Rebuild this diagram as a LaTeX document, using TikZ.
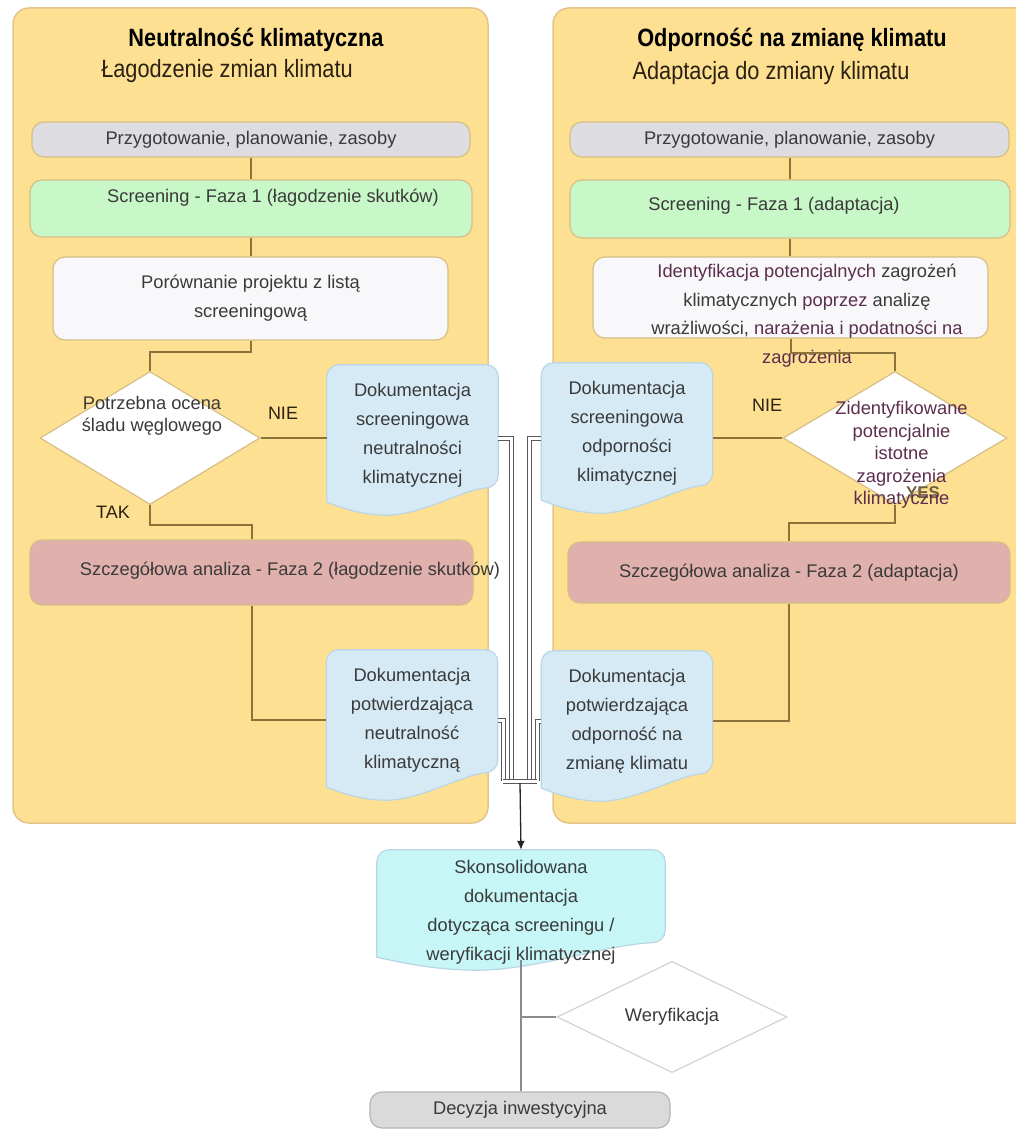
\documentclass[tikz,border=0pt]{standalone}
\usepackage{fontspec}
\setmainfont{Liberation Sans}
\newfontfamily\narrowfont[FakeStretch=0.87]{Liberation Sans}
\usetikzlibrary{shapes.geometric, backgrounds, calc, arrows.meta}
\definecolor{panelfill}{HTML}{FDE091}
\definecolor{panelline}{HTML}{E3C489}
\definecolor{conline}{HTML}{8C733C}
\definecolor{boxline}{HTML}{D6BE86}
\definecolor{greyfill}{HTML}{DCDCE1}
\definecolor{greenfill}{HTML}{C8F8C8}
\definecolor{whitefill}{HTML}{F8F8FA}
\definecolor{redfill}{HTML}{E0B0AC}
\definecolor{docfill}{HTML}{D6EAF5}
\definecolor{docborder}{HTML}{BCD5E4}
\definecolor{consfill}{HTML}{C6F6F6}
\definecolor{finfill}{HTML}{DADADA}
\definecolor{finline}{HTML}{B4B4B4}
\definecolor{txtgrey}{HTML}{3A3A3A}
\definecolor{txtpurple}{HTML}{5C2E4E}
\definecolor{txtbrown}{HTML}{2B2112}
\definecolor{yesgrey}{HTML}{6E6040}

% ksztalt dokumentu (falisty dol) pod wezlem #1
\newcommand\docshape[2]{%
	\begin{scope}[on background layer]
		\path[draw=docborder, line width=1.2pt, fill=#2]
			let \p1=(#1.north west), \p2=(#1.south east), \n1={\x2-\x1} in
			(\x1,{\y2+3pt}) [rounded corners=12pt] -- (\x1,\y1) -- (\x2,\y1) -- (\x2,{\y2+18pt}) [sharp corners]
			.. controls ({\x2-0.2*\n1},{\y2+16pt}) and ({\x1+0.55*\n1},{\y2-10pt}) .. ({\x1+0.35*\n1},{\y2-10pt})
			.. controls ({\x1+0.2*\n1},{\y2-10pt}) and ({\x1+0.08*\n1},{\y2-2pt}) .. cycle;
	\end{scope}}

\begin{document}
\begin{tikzpicture}[x=1pt, y=-1pt,
					>={Latex[length=9pt, width=8pt]},   % Pfeilspitzen
					txt/.style={font=\fontsize{18.3}{29}\selectfont, text=txtgrey, align=center, inner sep=0pt},
					answer/.style={font=\fontsize{18}{20}\selectfont, text=txtbrown, inner sep=0pt},
					flowbox/.style={txt, draw=boxline, line width=1.2pt, rounded corners=12pt},
					greybox/.style={flowbox, fill=greyfill, minimum height=35},
					greenbox/.style={flowbox, fill=greenfill},
					whitebox/.style={flowbox, fill=whitefill},
					redbox/.style={flowbox, fill=redfill},
					decision/.style={txt, diamond, draw=boxline, line width=1.2pt, fill=white},
					docbox/.style={txt, minimum width=171, minimum height=140},
					panel/.style={draw=panelline, line width=1.5pt, fill=panelfill, rounded corners=16pt},
					link/.style={draw=conline, line width=2pt},
					dbl/.style={draw=gray!70!black, double=white, double distance=3pt, line width=1pt},
					stemline/.style={draw=gray!90, line width=2pt}]
	\useasboundingbox (0,0) rectangle (1015,1129);
	% Panele
	\begin{scope}[on background layer]
		\draw[panel] (13,8) rectangle (488,823);
		\draw[panel] (553,8) rectangle (1035,823);
	\end{scope}
	% Naglowki
	\node[anchor=base, font=\narrowfont\bfseries\fontsize{25}{28}\selectfont] (titleL) at (256,46.5) {Neutralność klimatyczna};
	\node[anchor=base, text=txtbrown, font=\narrowfont\fontsize{25}{28}\selectfont] (subL) at (227,78) {Łagodzenie zmian klimatu};
	\node[anchor=base, font=\narrowfont\bfseries\fontsize{25}{28}\selectfont] (titleR) at (792,47) {Odporność na zmianę klimatu};
	\node[anchor=base, text=txtbrown, font=\narrowfont\fontsize{25}{28}\selectfont] (subR) at (771,80) {Adaptacja do zmiany klimatu};

	% lewa kolumna
	\node[greybox, minimum width=438] (prepL) at (251,139.5) {Przygotowanie, planowanie, zasoby};
	\node[greenbox, minimum width=442, minimum height=57] (scrL) at (251,208.5) {};
	\node[txt] (scrLt) at ([xshift=22pt, yshift=11pt]scrL.center) {Screening - Faza 1 (łagodzenie skutków)};
	\node[whitebox, minimum width=395, minimum height=83] (cmpL) at (250.5,298.5) {Porównanie projektu z listą\\screeningową};
	\node[decision, minimum width=220, minimum height=133] (decL) at (150,438) {};
	\node[txt, font=\fontsize{18.3}{22}\selectfont] (decLt) at ([xshift=2pt, yshift=22pt]decL.center) {Potrzebna ocena\\śladu węglowego};
	\node[answer] (nieL) at (283,413) {NIE};
	\node[answer] (takL) at (113,512) {TAK};
	\node[docbox] (docL1) at (412.5,435) {Dokumentacja\\screeningowa\\neutralności\\klimatycznej};
	\docshape{docL1}{docfill}
	\node[redbox, minimum width=443, minimum height=65] (anaL) at (251.5,572.5) {};
	\node[txt] (anaLt) at ([xshift=38.5pt, yshift=2pt]anaL.center) {Szczegółowa analiza - Faza 2 (łagodzenie skutków)};
	\node[docbox] (docL2) at (412,720) {Dokumentacja\\potwierdzająca\\neutralność\\klimatyczną};
	\docshape{docL2}{docfill}

	% prawa kolumna
	\node[greybox, minimum width=439] (prepR) at (789.5,139.5) {Przygotowanie, planowanie, zasoby};
	\node[greenbox, minimum width=440, minimum height=58] (scrR) at (790,209) {};
	\node[txt] (scrRt) at ([xshift=-16pt, yshift=3pt]scrR.center) {Screening - Faza 1 (adaptacja)};
	\node[whitebox, minimum width=395, minimum height=81] (idR) at (790.5,297.5) {};
	\node[txt, font=\fontsize{18.3}{28.5}\selectfont] (idRt) at ([xshift=16.5pt, yshift=-18pt]idR.center)
		{{\color{txtpurple}Identyfikacja potencjalnych} zagrożeń\\
		klimatycznych {\color{txtpurple}poprzez} analizę\\
		wrażliwości, {\color{txtpurple}narażenia i podatności na}\\
		{\color{txtpurple}zagrożenia}};
	\node[decision, minimum width=224, minimum height=133] (decR) at (895,438) {};
	\node[answer, text=yesgrey, font=\bfseries\fontsize{17}{20}\selectfont] (yesR) at (923,493) {YES};
	\node[txt, text=txtpurple, font=\fontsize{18.3}{22.5}\selectfont] (decRt) at ([xshift=6.5pt, yshift=-17pt]decR.center)
		{Zidentyfikowane\\potencjalnie\\istotne\\zagrożenia\\klimatyczne};
	\node[answer] (nieR) at (767,405) {NIE};
	\node[docbox] (docR1) at (627,433) {Dokumentacja\\screeningowa\\odporności\\klimatycznej};
	\docshape{docR1}{docfill}
	\node[redbox, minimum width=442, minimum height=61] (anaR) at (789,572.5) {Szczegółowa analiza - Faza 2 (adaptacja)};
	\node[docbox] (docR2) at (627,721) {Dokumentacja\\potwierdzająca\\odporność na\\zmianę klimatu};
	\docshape{docR2}{docfill}

	% dol
	\node[docbox, minimum width=288, minimum height=110] (cons) at (521,905) {};
	\docshape{cons}{consfill}
	\node[txt] (consT) at ([yshift=-7pt]cons.center) {Skonsolidowana\\dokumentacja\\dotycząca screeningu /\\weryfikacji klimatycznej};
	\node[decision, draw=gray!35, minimum width=230, minimum height=91] (verD) at (672,1017) {Weryfikacja};
	\node[flowbox, fill=finfill, draw=finline, minimum width=300, minimum height=36] (fin) at (520,1110) {Decyzja inwestycyjna};

	% Verbindungen links
	\draw[link] (prepL.south) -- (prepL.south |- scrL.north);
	\draw[link] (scrL.south) -- (scrL.south |- cmpL.north);
	\draw[link] (cmpL.south) -- ++(0,11) -| (decL.north);
	\draw[link] (decL.east) -- (decL.east -| docL1.west);
	\draw[link] (decL.south) -- ++(0,20) -| (anaL.north);
	\draw[link] (anaL.south) |- (docL2.west);
	% Verbindungen rechts
	\draw[link] (prepR.south) -- (prepR.south |- scrR.north);
	\draw[link] (scrR.south) -- (scrR.south |- idR.north);
	\draw[link] (idR.south) -- ++(0,14) -| (decR.north);
	\draw[link] (decR.west) -- (decR.west -| docR1.east);
	\draw[link] (decR.south) -- ++(0,18) -| (anaR.north);
	\draw[link] (anaR.south) |- (docR2.east);

	% Sammelleitungen
	\coordinate (jL1) at (511,781);
	\coordinate (jR1) at (529,781);
	\coordinate (jL2) at (503,781);
	\coordinate (jR2) at (537,781);
	\coordinate (mrg) at (520,783);
	\draw[dbl] (docL1.east |- decL.east) -| (jL1);
	\draw[dbl] (docR1.west |- decR.west) -| (jR1);
	\draw[dbl] (docL2.east) -| (jL2);
	\draw[dbl] (docR2.west) -| (jR2);
	\draw[dbl] (jL2) -- (jR2);
	\draw[->, draw=gray!30!black, line width=1.3pt] (mrg) -- (cons.north);
	\draw[stemline] (cons.south) -- (cons.south |- fin.north);
	\draw[stemline] (cons.south |- verD.west) -- (verD.west);
\end{tikzpicture}
\end{document}
